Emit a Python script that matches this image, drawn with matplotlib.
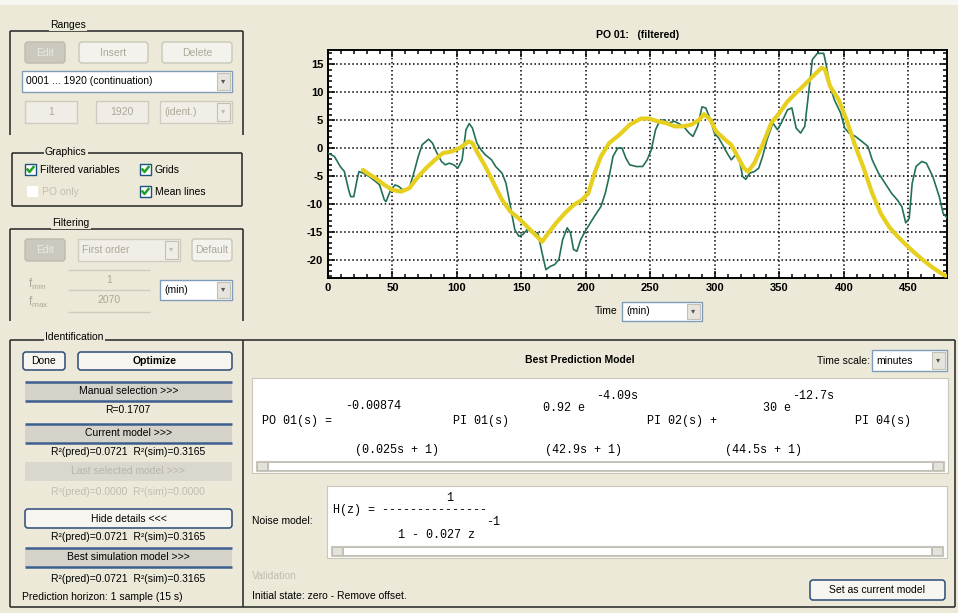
"""
Identification GUI screenshot: PO 01 (filtered) with best prediction model
"""

import matplotlib.pyplot as plt
from matplotlib.patches import Rectangle, FancyBboxPatch
from matplotlib.ticker import MultipleLocator

plt.rcParams['font.family'] = ['Liberation Sans', 'DejaVu Sans']
plt.rcParams['axes.unicode_minus'] = False

time_meas = [0, 5, 9.5, 12.7, 16, 17.6, 20, 22.5, 24, 27.4, 32, 37, 40, 43.7, 45,
             48.6, 52, 55, 58, 63, 66.5, 70, 73, 76, 78, 81, 84.5, 88, 91, 94,
             97.5, 100.7, 104, 107, 109.5, 112, 115.4, 118.7, 122, 126.8, 130,
             135, 138, 141.5, 144.8, 148, 151, 154.5, 159, 162.7, 166, 169,
             172.5, 175.7, 179, 182, 185.5, 188, 190.4, 193, 196, 199.5, 203.5,
             206.7, 211.6, 215, 218, 221, 224.6, 228, 231, 234, 239, 244, 247.5,
             250.7, 254, 257, 260.5, 263.8, 268.7, 273.5, 276.8, 280, 283, 286.6,
             290, 293, 296.5, 299.6, 303, 306, 309.5, 312.7, 316, 319, 321.5,
             324, 327, 330.6, 334, 337, 340.4, 345, 348.5, 351.5, 356.4, 359.7,
             363, 366.5, 369.7, 373, 375.6, 379.5, 384.4, 386, 389.3, 392.6,
             397.5, 400.7, 404, 409, 414, 418.7, 422, 426.9, 432, 437, 441.5,
             445, 448, 450.7, 453, 456, 460.4, 464, 469, 474, 477, 480]
po01_meas = [-0.9, -1.5, -3.3, -4.2, -7.5, -8.7, -8.7, -5.7, -4.2, -4.5, -5.1,
             -6.0, -6.6, -9.3, -9.6, -7.5, -6.6, -6.9, -7.5, -7.2, -4.5, -1.5,
             0.6, 1.2, 1.6, 0.9, -0.9, -2.4, -3.0, -2.7, -3.0, -3.6, -2.1, 3.3,
             4.4, 3.6, 0.9, -0.3, -1.2, -2.1, -3.3, -4.5, -6.3, -10.5, -14.6,
             -15.8, -15.5, -14.6, -15.2, -15.2, -18.8, -21.8, -21.2, -20.9,
             -20.0, -16.4, -14.3, -15.2, -18.2, -18.5, -16.4, -14.9, -13.4,
             -12.2, -10.5, -8.1, -5.1, -1.5, 0.0, 0.0, -1.8, -3.0, -3.3, -3.3,
             -2.1, -0.3, 3.3, 4.8, 5.1, 4.5, 4.8, 4.2, 3.6, 2.7, 2.1, 3.9, 7.4,
             7.2, 5.1, 2.7, 1.8, 0.6, -0.9, -2.1, -1.2, -2.1, -5.1, -5.6, -4.5,
             -4.2, -3.6, -1.5, 1.5, 4.5, 3.3, 4.5, 6.9, 7.2, 3.6, 2.7, 3.9, 10.5,
             15.9, 17.0, 17.0, 15.3, 11.1, 8.7, 6.3, 3.6, 2.7, 2.1, 1.2, 0.3,
             -2.1, -4.5, -6.3, -8.1, -9.3, -10.5, -13.4, -12.6, -6.3, -3.3, -2.4,
             -2.7, -5.1, -8.7, -11.7, -12.5]

# model output
time_model = [27, 30.6, 37, 43.7, 50, 56.7, 63, 70, 76, 83, 89, 96, 102, 109,
              112, 115.4, 122, 128.5, 135, 141.5, 148, 154.5, 161, 166, 171, 177,
              184, 190.4, 197, 201.8, 206.7, 211.6, 218, 226, 234, 242.6, 249,
              255.6, 262, 268.7, 275, 281.7, 288, 291.5, 296.5, 301, 308, 312.7,
              317.6, 322.5, 325.7, 330.6, 337, 343.7, 350, 356.4, 363, 369.7,
              376, 382.8, 385.4, 389.3, 396, 402, 409, 415.4, 422, 428.6, 435,
              441.5, 448, 454.5, 461, 467.6, 475.7, 479]
po01_model = [-3.9, -4.5, -5.4, -6.6, -7.5, -7.8, -7.2, -5.1, -3.6, -2.1, -0.9,
              -0.6, 0.0, 1.2, 0.9, -0.6, -3.3, -6.3, -9.3, -11.4, -12.6, -14.1,
              -15.6, -16.8, -15.2, -13.4, -11.6, -10.2, -9.3, -8.1, -4.5, -1.5,
              0.9, 2.4, 4.2, 5.3, 5.3, 4.8, 4.5, 3.9, 3.9, 4.2, 5.1, 6.1, 5.1,
              3.0, 1.5, 0.6, -1.5, -3.6, -4.2, -2.7, 0.6, 4.5, 6.3, 8.4, 9.9,
              11.4, 12.9, 14.4, 14.1, 11.1, 8.7, 5.1, 0.3, -3.6, -8.1, -11.7,
              -14.1, -15.8, -17.3, -18.7, -20.0, -21.2, -22.5, -22.9]

x_ticks = [0, 50, 100, 150, 200, 250, 300, 350, 400, 450]
y_ticks = [-20, -15, -10, -5, 0, 5, 10, 15]

r2_current = 'R²(pred)=0.0721  R²(sim)=0.3165'
r2_last = 'R²(pred)=0.0000  R²(sim)=0.0000'

W, H = 958, 613
BG = '#ece9d8'
BLUE = '#3d5f8f'
GREY_TXT = '#aca899'
MONO = 8.5

fig = plt.figure(figsize=(W / 100, H / 100), dpi=100, facecolor=BG)
gui = fig.add_axes([0, 0, 1, 1])
gui.set_xlim(0, W)
gui.set_ylim(H, 0)
gui.axis('off')


def rect(x0, y0, x1, y1, fc, ec='none', lw=1.0, z=1):
    gui.add_patch(Rectangle((x0, y0), x1 - x0, y1 - y0, facecolor=fc,
                            edgecolor=ec, linewidth=lw, zorder=z))


def rbox(x0, y0, x1, y1, fc, ec, lw=1.0, z=1):
    gui.add_patch(FancyBboxPatch((x0, y0), x1 - x0, y1 - y0,
                                 boxstyle='round,pad=0,rounding_size=3',
                                 facecolor=fc, edgecolor=ec, linewidth=lw, zorder=z))


def label(x, y, s, size=7.5, color='black', ha='left', weight='normal', mono=False, bg=None):
    kw = {}
    if bg is not None:
        kw['bbox'] = dict(facecolor=bg, edgecolor='none', pad=1)
    fam = ['Liberation Mono', 'DejaVu Sans Mono'] if mono else None
    gui.text(x, y, s, fontsize=size, color=color, ha=ha, va='center',
             fontweight=weight, family=fam, zorder=5, **kw)


def line(xs, ys, color='#333333', lw=1.2):
    gui.plot(xs, ys, color=color, lw=lw, zorder=2, solid_capstyle='butt')


def frame(x0, y0, x1, y1, title, tx, bottom=True):
    line([x0, x0], [y0, y1])
    line([x1, x1], [y0, y1])
    line([x0, x1], [y0, y0])
    if bottom:
        line([x0, x1], [y1, y1])
    label(tx, y0 - 1, title, bg=BG)


def button(x0, y0, x1, y1, text, kind='off', weight='normal'):
    if kind == 'edit':
        rbox(x0, y0, x1, y1, '#cbc8bd', '#bdbaae')
        col = '#ebe9e0'
    elif kind == 'on':
        rbox(x0, y0, x1, y1, '#f6f5f0', '#2d4a78', lw=1.1)
        col = 'black'
    else:
        rbox(x0, y0, x1, y1, '#f3f2ec', '#c9c7b8')
        col = GREY_TXT
    label((x0 + x1) / 2, (y0 + y1) / 2, text, color=col, ha='center', weight=weight)


def bar(x0, y0, x1, y1, text, enabled=True):
    if enabled:
        rect(x0, y0, x1, y1, '#d5d2c9')
        line([x0, x1], [y0, y0], BLUE, 1.8)
        line([x0, x1], [y1, y1], BLUE, 1.8)
        label((x0 + x1) / 2, (y0 + y1) / 2, text, ha='center')
    else:
        rect(x0, y0, x1, y1, '#dad7ce')
        label((x0 + x1) / 2, (y0 + y1) / 2, text, ha='center', color='#b8b5a8')


def dropdown(x0, y0, x1, y1, text, enabled=True, size=7.5):
    rect(x0, y0, x1, y1, 'white' if enabled else '#f0eee6',
         '#7f9db9' if enabled else '#cfccc0', lw=1)
    rect(x1 - 15, y0 + 2, x1 - 2, y1 - 2, '#e6e4dc' if enabled else '#efede6', '#c4c1b4', lw=0.8)
    label(x1 - 8.5, (y0 + y1) / 2, '▾', size=6, ha='center',
          color='#555555' if enabled else '#bbbbbb')
    label(x0 + 4, (y0 + y1) / 2, text, size=size, color='black' if enabled else GREY_TXT)


def field(x0, y0, x1, y1, text):
    rect(x0, y0, x1, y1, '#efede5', '#cfccbf', lw=1)
    label((x0 + x1) / 2, (y0 + y1) / 2, text, color=GREY_TXT, ha='center')


def checkbox(x, y, text, checked=True, enabled=True):
    if enabled:
        rect(x, y, x + 11, y + 11, 'white', '#1c5180', lw=1)
    else:
        rect(x, y, x + 11, y + 11, 'white')
    if checked:
        gui.plot([x + 2.5, x + 4.5, x + 8.5], [y + 5.5, y + 8, y + 3],
                 color='#21a121', lw=1.8, zorder=4)
    label(x + 15, y + 6, text, color='black' if enabled else '#c2bfb2')


def scrollbar(x0, y0, x1, y1):
    rect(x0, y0, x1, y1, '#f2f1eb', '#c9c7bb', lw=0.8)
    rect(x0 + 1, y0 + 1, x0 + 11, y1 - 1, '#e4e2da', '#b8b6aa', lw=0.6)
    rect(x1 - 11, y0 + 1, x1 - 1, y1 - 1, '#e4e2da', '#b8b6aa', lw=0.6)
    rect(x0 + 12, y0 + 1, x1 - 12, y1 - 1, 'white', '#b8b6aa', lw=0.6)


# white strip at the very top of the screenshot
rect(0, 0, W, 5, '#f7f6f1')

# ---------------- Ranges ----------------
line([10, 10], [31, 135])
line([243, 243], [31, 135])
line([10, 243], [31, 31])
label(50, 25, 'Ranges', bg=BG)
button(25, 42, 65, 63, 'Edit', 'edit')
button(79, 42, 148, 63, 'Insert')
button(162, 42, 232, 63, 'Delete')
dropdown(22, 71, 232, 92, '0001 ... 1920 (continuation)')
field(25, 101, 77, 123, '1')
field(96, 101, 148, 123, '1920')
dropdown(160, 101, 232, 123, '(ident.)', enabled=False)

# ---------------- Graphics ----------------
frame(12, 153, 242, 206, 'Graphics', 45)
checkbox(25, 164, 'Filtered variables')
checkbox(27, 186, 'PO only', checked=False, enabled=False)
checkbox(140, 164, 'Grids')
checkbox(140, 186, 'Mean lines')

# ---------------- Filtering ----------------
line([10, 10], [229, 321])
line([243, 243], [229, 321])
line([10, 243], [229, 229])
label(52, 223, 'Filtering', bg=BG)
button(25, 239, 65, 261, 'Edit', 'edit')
dropdown(78, 239, 180, 261, 'First order', enabled=False)
button(192, 239, 232, 261, 'Default')
label(28, 284, r'$\mathregular{f_{min}}$', size=8.5, color=GREY_TXT)
label(28, 302, r'$\mathregular{f_{max}}$', size=8.5, color=GREY_TXT)
line([68, 150], [270, 270], '#cfccbf', 1)
line([68, 150], [290, 290], '#cfccbf', 1)
line([68, 150], [312, 312], '#cfccbf', 1)
label(109, 280, '1', color=GREY_TXT, ha='center')
label(109, 300, '2070', color=GREY_TXT, ha='center')
dropdown(160, 280, 232, 300, '(min)')

# ---------------- Identification ----------------
line([10, 10], [340, 607])
line([10, 955], [607, 607])
line([243, 243], [340, 607])
line([955, 955], [340, 607])
line([10, 955], [340, 340])
label(45, 337, 'Identification', bg=BG)
button(23, 352, 65, 370, 'Done', 'on')
button(78, 352, 232, 370, 'Optimize', 'on', weight='bold')
bar(25, 382, 232, 401, 'Manual selection >>>')
label(128, 410, 'R=0.1707', ha='center')
bar(25, 424, 232, 443, 'Current model >>>')
label(128, 452, r2_current, ha='center')
bar(25, 462, 232, 481, 'Last selected model >>>', enabled=False)
label(128, 492, r2_last, ha='center', color='#c0bdb0')
button(25, 509, 232, 528, 'Hide details <<<', 'on')
label(128, 537, r2_current, ha='center')
bar(25, 548, 232, 567, 'Best simulation model >>>')
label(128, 579, r2_current, ha='center')
label(22, 597, 'Prediction horizon: 1 sample (15 s)')

# ---------------- Best prediction model ----------------
label(580, 360, 'Best Prediction Model', ha='center', weight='bold')
label(870, 361, 'Time scale:', ha='right')
dropdown(872, 350, 947, 371, 'minutes')

rect(252, 378, 948, 473, 'white', '#c9c7bb', lw=0.8)
label(262, 421, 'PO 01(s) =', mono=True, size=MONO)
label(345, 406, '-0.00874', mono=True, size=MONO)
label(355, 450, '(0.025s + 1)', mono=True, size=MONO)
label(453, 421, 'PI 01(s)', mono=True, size=MONO)
label(543, 408, '0.92 e', mono=True, size=MONO)
label(596, 396, '-4.09s', mono=True, size=MONO)
label(545, 450, '(42.9s + 1)', mono=True, size=MONO)
label(647, 421, 'PI 02(s) +', mono=True, size=MONO)
label(763, 408, '30 e', mono=True, size=MONO)
label(792, 396, '-12.7s', mono=True, size=MONO)
label(725, 450, '(44.5s + 1)', mono=True, size=MONO)
label(855, 421, 'PI 04(s)', mono=True, size=MONO)
scrollbar(256, 461, 944, 471)

label(252, 521, 'Noise model:')
rect(327, 486, 947, 558, 'white', '#c9c7bb', lw=0.8)
label(446, 498, '1', mono=True, size=MONO)
label(333, 510, 'H(z) = ---------------', mono=True, size=MONO)
label(486, 522, '-1', mono=True, size=MONO)
label(398, 535, '1 - 0.027 z', mono=True, size=MONO)
scrollbar(331, 546, 943, 556)

label(252, 576, 'Validation', color='#c0bdb0')
label(252, 596, 'Initial state: zero - Remove offset.')
button(810, 580, 945, 600, 'Set as current model', 'on')

# ---------------- Time selector under the plot ----------------
label(618, 311, 'Time', ha='right')
dropdown(622, 302, 702, 321, '(min)')

# ---------------- the plot ----------------
ax = fig.add_axes([328 / W, 1 - 278 / H, (947 - 328) / W, (278 - 50) / H])
ax.set_facecolor('white')
ax.plot(time_meas, po01_meas, color='#23705a', lw=1.2, zorder=3)
ax.plot(time_model, po01_model, color='#e6cf1e', lw=3, zorder=4,
        solid_capstyle='round', solid_joinstyle='round')
ax.set_xlim(0, 480)
ax.set_ylim(-23.3, 17.6)
ax.set_xticks(x_ticks)
ax.set_yticks(y_ticks)
ax.xaxis.set_minor_locator(MultipleLocator(10))
ax.yaxis.set_minor_locator(MultipleLocator(1))
ax.tick_params(which='both', direction='in', top=True, right=True, width=1.1)
ax.tick_params(which='major', length=5, labelsize=8)
ax.tick_params(which='minor', length=3)
for lab in ax.get_xticklabels() + ax.get_yticklabels():
    lab.set_fontweight('bold')
ax.grid(True, which='major', color='black', linestyle=':', linewidth=1.1)
for sp in ax.spines.values():
    sp.set_linewidth(1.4)
ax.set_title('PO 01:   (filtered)', fontsize=7.5, fontweight='bold', pad=9)

plt.savefig('out.png', dpi=100, facecolor=BG)
